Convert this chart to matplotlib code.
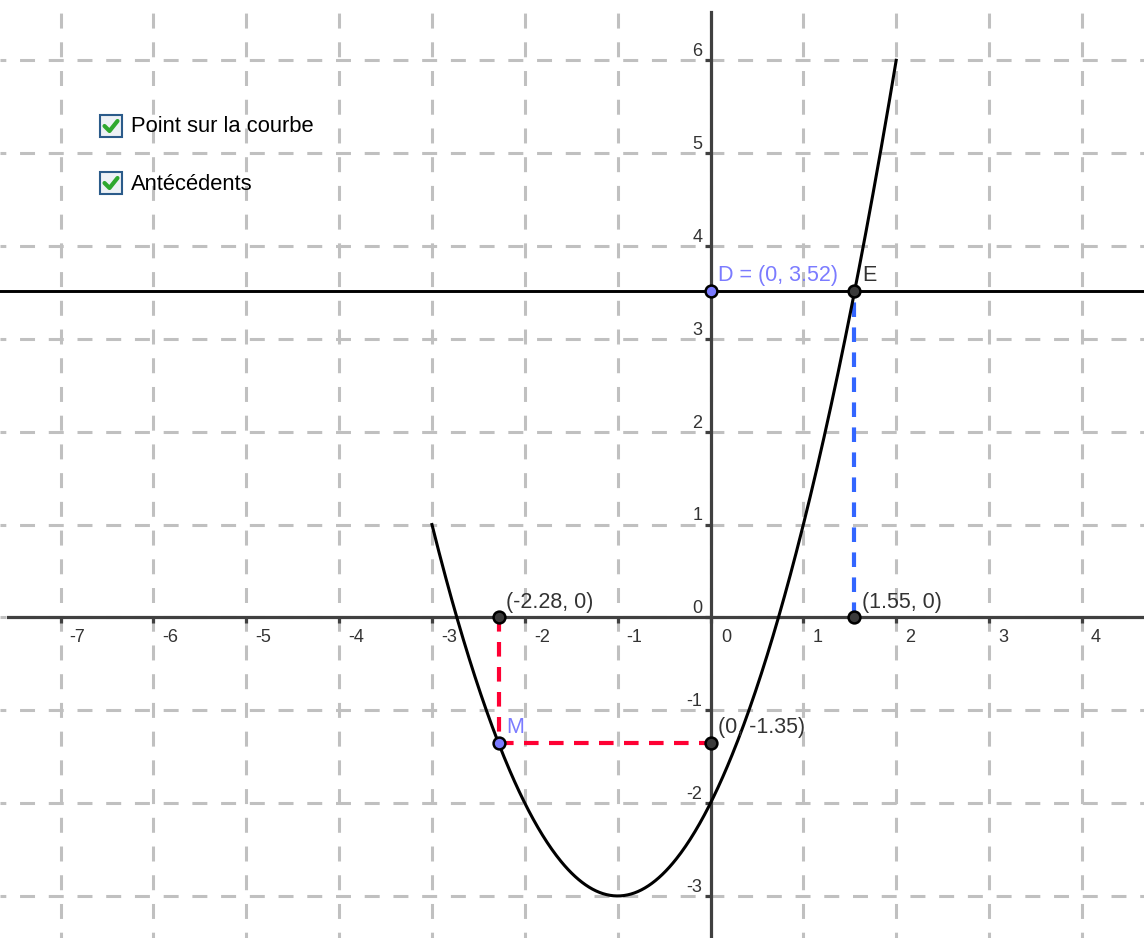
import numpy as np
import matplotlib.pyplot as plt
from matplotlib.patches import Rectangle

plt.rcParams['font.family'] = ['Liberation Sans', 'DejaVu Sans']

# parabola f(x) = x^2 + 2x - 2, drawn on [-3, 2]
coef = [1, 2, -2]
curve_start, curve_end = -3, 2

# construction points
d_y = 3.52            # D = (0, 3.52), horizontal line y = d_y
e_x = 1.55            # E = (1.55, 3.52), antecedent
m_x, m_y = -2.28, -1.35   # M on the curve

x_ticks = [-7, -6, -5, -4, -3, -2, -1, 0, 1, 2, 3, 4]
y_ticks = [-3, -2, -1, 0, 1, 2, 3, 4, 5, 6]

checkboxes = ['Point sur la courbe', 'Antécédents']

# pixel geometry of the GeoGebra view
W, H = 1144, 938
scale = 92.85
x0px, y0px = 710.5, 617.4

AXIS = '#404040'
GRID = '#c0c0c0'
BLUE_PT = '#7b7bff'
DARK_PT = '#3a3a3a'

fig = plt.figure(figsize=(W / 100, H / 100), dpi=100)
ax = fig.add_axes([0, 0, 1, 1])
xmin, xmax = -x0px / scale, (W - x0px) / scale
ymin, ymax = -(H - y0px) / scale, y0px / scale
ax.set_xlim(xmin, xmax)
ax.set_ylim(ymin, ymax)
ax.axis('off')

# grid
dash = (3, (4.9, 4.5))
for v in x_ticks:
    ax.axvline(v, color=GRID, lw=2.2, ls=dash, zorder=0)
for v in y_ticks:
    ax.axhline(v, color=GRID, lw=2.2, ls=dash, zorder=0)

# axes
ax.plot([xmin + 8 / scale, xmax], [0, 0], color=AXIS, lw=2.3, zorder=1)
ax.plot([0, 0], [ymin, ymax - 12 / scale], color=AXIS, lw=2.3, zorder=1)
ax.plot(x_ticks, [0] * len(x_ticks), ls='none', marker=3, ms=4, mew=2.3,
        color=AXIS, zorder=1)
ax.plot([0] * len(y_ticks), y_ticks, ls='none', marker=0, ms=4, mew=2.3,
        color=AXIS, zorder=1)

for v in x_ticks:
    off = 8 if v == 0 else 6.5
    ax.annotate(str(v), (v, 0), xytext=(off, -8), textcoords='offset points',
                ha='left', va='top', fontsize=13, color='#333333')
for v in y_ticks:
    ax.annotate(str(v), (0, v), xytext=(-6, 3), textcoords='offset points',
                ha='right', va='baseline', fontsize=13, color='#333333')

# curve
xs = np.linspace(curve_start, curve_end, 400)
ax.plot(xs, np.polyval(coef, xs), color='black', lw=2.2, zorder=3)

# horizontal line y = D
ax.axhline(d_y, color='black', lw=2.1, zorder=3)

# dashed construction lines
ax.plot([e_x, e_x], [0, d_y], color='#3366ff', lw=3, ls=(0, (3.5, 2.5)), zorder=2)
ax.plot([m_x, m_x], [0, m_y], color='#ff0033', lw=3, ls=(0, (3.5, 2.5)), zorder=2)
ax.plot([m_x, 0], [m_y, m_y], color='#ff0033', lw=3, ls=(0, (3.5, 2.5)), zorder=2)

# points
dark_pts = [(e_x, d_y), (e_x, 0), (m_x, 0), (0, m_y)]
blue_pts = [(0, d_y), (m_x, m_y)]
for px, py in dark_pts:
    ax.plot(px, py, 'o', ms=8.5, mfc=DARK_PT, mec='black', mew=1.8, zorder=6)
for px, py in blue_pts:
    ax.plot(px, py, 'o', ms=8.5, mfc=BLUE_PT, mec='black', mew=1.8, zorder=6)

labels = [
    ((0, d_y), f'D = (0, {d_y:.2f})', BLUE_PT),
    ((e_x, d_y), 'E', '#333333'),
    ((e_x, 0), f'({e_x:.2f}, 0)', '#333333'),
    ((m_x, 0), f'({m_x:.2f}, 0)', '#333333'),
    ((0, m_y), f'(0, {m_y:.2f})', '#333333'),
    ((m_x, m_y), 'M', BLUE_PT),
]
for (px, py), txt, col in labels:
    ax.annotate(txt, (px, py), xytext=(5.5, 7), textcoords='offset points',
                ha='left', va='baseline', fontsize=15.5, color=col, zorder=7)

# checkboxes (pixel overlay)
ov = fig.add_axes([0, 0, 1, 1])
ov.set_xlim(0, W)
ov.set_ylim(H, 0)
ov.axis('off')
for i, name in enumerate(checkboxes):
    top = 115 + i * 57
    ov.add_patch(Rectangle((100, top), 22, 22, fc='#edf1f5', ec='#2b5b8a', lw=1.5))
    ov.plot([104.5, 109.5, 117.5], [top + 11, top + 16, top + 6],
            color='#2ea82e', lw=3, solid_capstyle='round')
    ov.text(131, top + 12, name, ha='left', va='center', fontsize=15.8, color='black')

fig.savefig('out.png', dpi=100)
